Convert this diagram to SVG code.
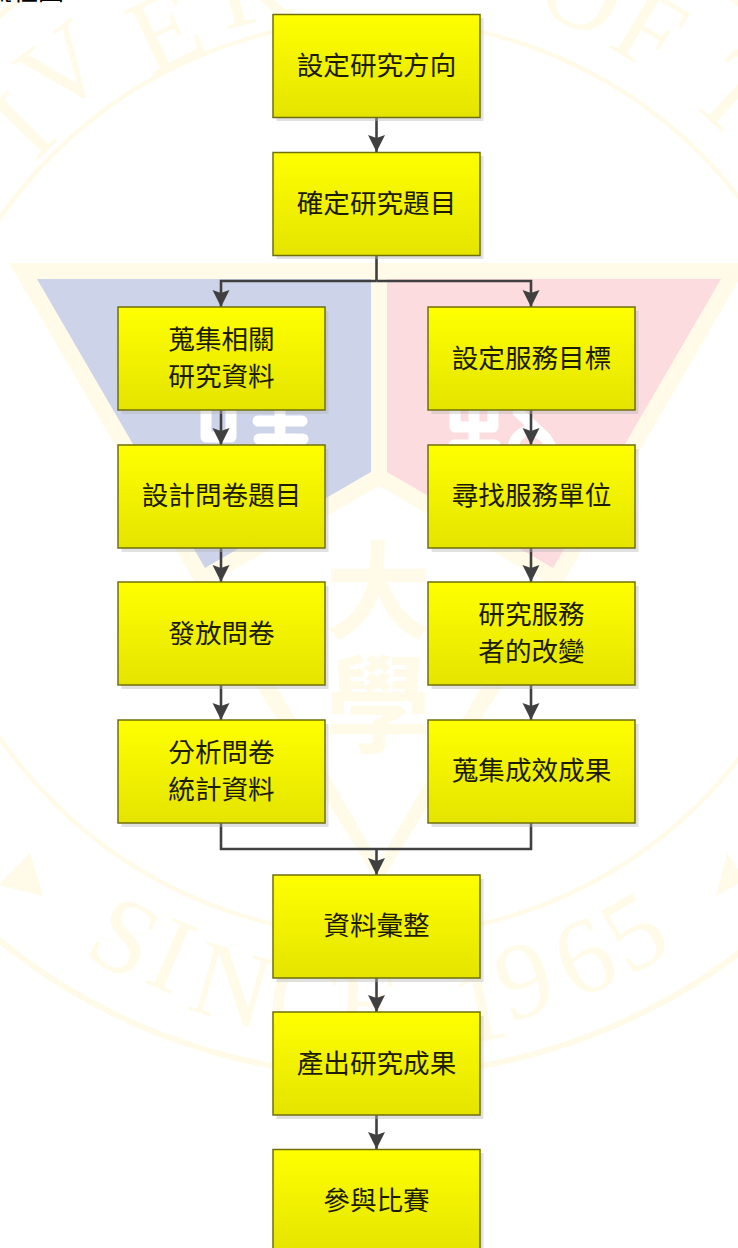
<svg xmlns="http://www.w3.org/2000/svg" width="738" height="1248" viewBox="0 0 738 1248">
<style>
.wm{fill:#fffbe8;stroke:none}
.ring{fill:none;stroke:#fffbe8}
.ltr{font-family:"Liberation Serif",serif;font-size:108px;fill:#fffbe8;text-anchor:middle}
.seal{font-family:"Noto Sans CJK TC",sans-serif;font-size:106px;font-weight:700;fill:#fffbe8;text-anchor:middle}
.cut{stroke:#fff;fill:none;stroke-width:11;stroke-linecap:round;stroke-linejoin:round}
.box{fill:url(#g);stroke:#6f6f0c;stroke-width:1.5}
.sh{fill:#b4b4b4;opacity:.4}
.t{font-family:"Noto Sans CJK TC","Noto Sans CJK SC",sans-serif;font-size:26.6px;fill:#1c1c00;text-anchor:middle}
.c{fill:none;stroke:#404040;stroke-width:2.6}
.a{marker-end:url(#ah)}
</style>
<defs>
<linearGradient id="g" x1="0" y1="0" x2="0" y2="1"><stop offset="0" stop-color="#ffff00"/><stop offset="1" stop-color="#e4e400"/></linearGradient>
<marker id="ah" markerUnits="userSpaceOnUse" markerWidth="18" markerHeight="18" refX="17" refY="8.5" orient="auto"><path d="M0,0 L3,8.5 L0,17 L17,8.5 Z" fill="#404040"/></marker>
</defs>
<rect width="738" height="1248" fill="#fff"/>
<g id="watermark">
<circle class="ring" cx="377" cy="478" r="458" stroke-width="4.5"/>
<circle class="ring" cx="377" cy="478" r="597" stroke-width="6"/>
<polygon class="wm" points="192,582 226,600 379,862 379,885"/>
<polygon class="wm" points="566,582 532,600 379,862 379,885"/>
<polygon points="37,279 371,279 371,472 205,568" fill="#cdd3e8" stroke="#fffbe8" stroke-width="32"/>
<polygon points="387,279 721,279 553,568 387,472" fill="#fddcdf" stroke="#fffbe8" stroke-width="32"/>
<polygon points="37,279 371,279 371,472 205,568" fill="#cdd3e8"/>
<polygon points="387,279 721,279 553,568 387,472" fill="#fddcdf"/>
<path class="cut" d="M206,400 V437 H231 V400"/>
<path class="cut" d="M258,421 H302 M280,405 V441 M259,439 H303" stroke-width="9"/>
<path class="cut" d="M455,405 V427 H493 V405 M474,405 V441 M454,445 H495"/>
<path class="cut" d="M513,447 C517,426 542,426 551,447 M518,412 L546,438" stroke-width="9"/>
<polygon class="wm" points="-2,885 30,853 43,896"/>
<polygon class="wm" points="716,896 727,853 745,880"/>
<text class="seal"><tspan x="378" y="630">大</tspan><tspan x="378" y="744">學</tspan></text>
<g class="ltr">
<text transform="translate(22,125) rotate(-45)" y="36">I</text>
<text transform="translate(62,68) rotate(-37)" y="36">V</text>
<text transform="translate(165,30) rotate(-25.6)" y="36">E</text>
<text transform="translate(250,-14) rotate(-14.6)" y="36">R</text>
<text transform="translate(583,-8) rotate(23)" y="36">O</text>
<text transform="translate(650,30) rotate(31)" y="36">F</text>
<text transform="translate(735,95) rotate(43)" y="36">T</text>
<text transform="translate(125,937) rotate(28.8)" y="36">S</text>
<text transform="translate(172,955) rotate(23.3)" y="36">I</text>
<text transform="translate(232,985) rotate(16)" y="36">N</text>
<text transform="translate(305,998) rotate(8)" y="36">C</text>
<text transform="translate(368,1004) rotate(1)" y="36">E</text>
<text transform="translate(480,1005) rotate(-11)" y="36">1</text>
<text transform="translate(524,980) rotate(-16.3)" y="36">9</text>
<text transform="translate(584,957) rotate(-23.4)" y="36">6</text>
<text transform="translate(634,932) rotate(-29.5)" y="36">5</text>
</g>
</g>
<text x="-14" y="0" font-family="'Noto Sans CJK TC',sans-serif" font-size="26" fill="#000">流程圖</text>
<g id="connectors">
<path class="c a" d="M376.5,118 V152"/>
<path class="c" d="M376.5,255 V281"/>
<path class="c a" d="M376.5,281 H221 V307"/>
<path class="c a" d="M376.5,281 H531 V307"/>
<path class="c a" d="M221,410 V445"/>
<path class="c a" d="M531,410 V445"/>
<path class="c a" d="M221,548 V582"/>
<path class="c a" d="M531,548 V582"/>
<path class="c a" d="M221,685 V720"/>
<path class="c a" d="M531,685 V720"/>
<path class="c" d="M221,823 V849 H531 V823"/>
<path class="c a" d="M376.5,849 V875"/>
<path class="c a" d="M376.5,978 V1012"/>
<path class="c a" d="M376.5,1115 V1149"/>
</g>
<g id="n1"><rect class="sh" x="276.5" y="18" width="207" height="103"/><rect class="box" x="273" y="14.5" width="207" height="103"/><text class="t" x="376.5" y="75">設定研究方向</text></g>
<g id="n2"><rect class="sh" x="276.5" y="156" width="207" height="103"/><rect class="box" x="273" y="152.5" width="207" height="103"/><text class="t" x="376.5" y="213">確定研究題目</text></g>
<g id="n3"><rect class="sh" x="121.5" y="311" width="207" height="103"/><rect class="box" x="118" y="307" width="207" height="103"/><text class="t" x="221.5" y="349">蒐集相關</text><text class="t" x="221.5" y="386">研究資料</text></g>
<g id="n4"><rect class="sh" x="431.5" y="311" width="207" height="103"/><rect class="box" x="428" y="307" width="207" height="103"/><text class="t" x="531.5" y="368">設定服務目標</text></g>
<g id="n5"><rect class="sh" x="121.5" y="449" width="207" height="103"/><rect class="box" x="118" y="445" width="207" height="103"/><text class="t" x="221.5" y="505">設計問卷題目</text></g>
<g id="n6"><rect class="sh" x="431.5" y="449" width="207" height="103"/><rect class="box" x="428" y="445" width="207" height="103"/><text class="t" x="531.5" y="505">尋找服務單位</text></g>
<g id="n7"><rect class="sh" x="121.5" y="586" width="207" height="103"/><rect class="box" x="118" y="582" width="207" height="103"/><text class="t" x="221.5" y="643">發放問卷</text></g>
<g id="n8"><rect class="sh" x="431.5" y="586" width="207" height="103"/><rect class="box" x="428" y="582" width="207" height="103"/><text class="t" x="531.5" y="624">研究服務</text><text class="t" x="531.5" y="661">者的改變</text></g>
<g id="n9"><rect class="sh" x="121.5" y="724" width="207" height="103"/><rect class="box" x="118" y="720" width="207" height="103"/><text class="t" x="221.5" y="762">分析問卷</text><text class="t" x="221.5" y="799">統計資料</text></g>
<g id="n10"><rect class="sh" x="431.5" y="724" width="207" height="103"/><rect class="box" x="428" y="720" width="207" height="103"/><text class="t" x="531.5" y="780">蒐集成效成果</text></g>
<g id="n11"><rect class="sh" x="276.5" y="879" width="207" height="103"/><rect class="box" x="273" y="875" width="207" height="103"/><text class="t" x="376.5" y="935">資料彙整</text></g>
<g id="n12"><rect class="sh" x="276.5" y="1016" width="207" height="103"/><rect class="box" x="273" y="1012" width="207" height="103"/><text class="t" x="376.5" y="1073">產出研究成果</text></g>
<g id="n13"><rect class="sh" x="276.5" y="1153" width="207" height="103"/><rect class="box" x="273" y="1149.5" width="207" height="103"/><text class="t" x="376.5" y="1210">參與比賽</text></g>
</svg>
